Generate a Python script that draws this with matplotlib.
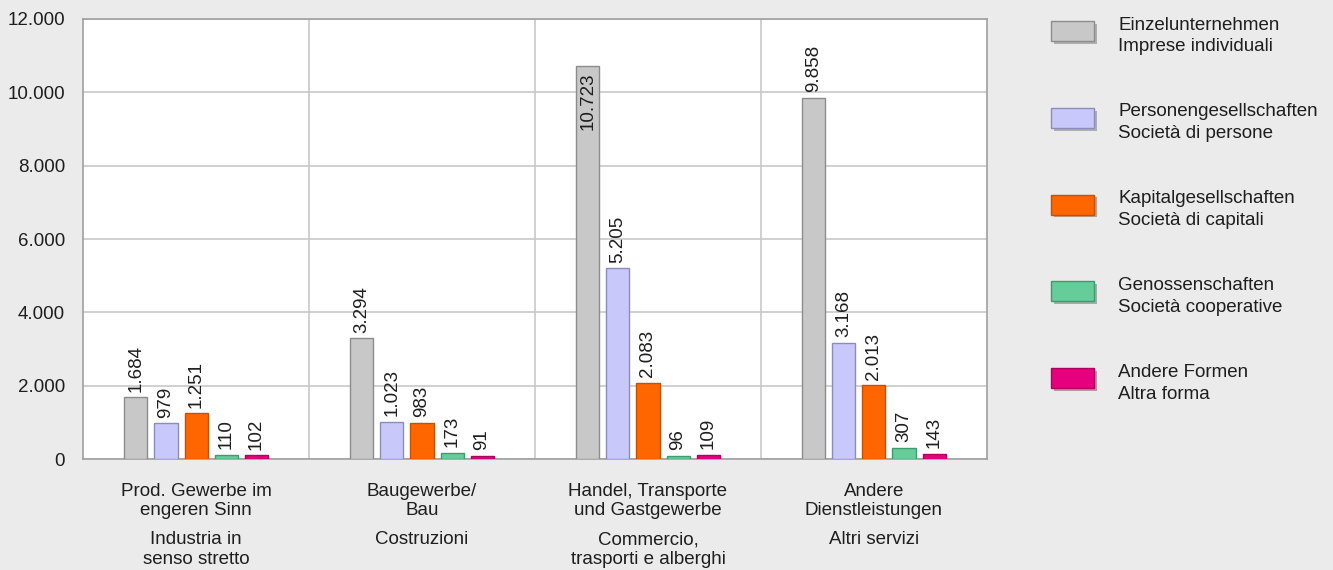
"""Unternehmen nach Rechtsform und Wirtschaftsbereich."""

import matplotlib

matplotlib.use("Agg")
import matplotlib.pyplot as plt
import matplotlib.patheffects as pe
import numpy as np
from matplotlib.patches import Rectangle
from matplotlib.ticker import FuncFormatter

plt.rcParams["font.family"] = ["Liberation Sans", "DejaVu Sans"]

categories_de = ["Prod. Gewerbe im\nengeren Sinn", "Baugewerbe/\nBau", "Handel, Transporte\nund Gastgewerbe", "Andere\nDienstleistungen"]
categories_it = ["Industria in\nsenso stretto", "Costruzioni", "Commercio,\ntrasporti e alberghi", "Altri servizi"]

series_de = ["Einzelunternehmen", "Personengesellschaften", "Kapitalgesellschaften", "Genossenschaften", "Andere Formen"]
series_it = ["Imprese individuali", "Società di persone", "Società di capitali", "Società cooperative", "Altra forma"]

einzel = [1684, 3294, 10723, 9858]
personen = [979, 1023, 5205, 3168]
kapital = [1251, 983, 2083, 2013]
genossen = [110, 173, 96, 307]
andere = [102, 91, 109, 143]
values = [einzel, personen, kapital, genossen, andere]

colors = ["#c8c8c8", "#c8c8fa", "#ff6600", "#66cc99", "#e6007e"]
edges = ["#8c8c8c", "#8c8cb8", "#c45000", "#3f9a6e", "#b0005e"]

BG = "#ebebeb"
TXT = "#1e1e1e"
FS = 13.5


def fmt_de(v: float) -> str:
    return f"{int(v):,}".replace(",", ".")


def main() -> None:
    fig = plt.figure(figsize=(13.33, 5.70), dpi=100, facecolor=BG)
    ax = fig.add_axes([0.0623, 0.1947, 0.6781, 0.772])
    ax.set_facecolor("white")

    x = np.arange(len(categories_de))
    width = 0.102
    step = 0.133
    for i, vals in enumerate(values):
        pos = x + (i - 2) * step
        ax.bar(pos, vals, width=width, color=colors[i], edgecolor=edges[i], linewidth=1.0, zorder=3)
        for px, v in zip(pos, vals):
            if v > 10000:
                ax.annotate(fmt_de(v), (px, v), xytext=(0, -5), textcoords="offset points",
                            rotation=90, ha="center", va="top", fontsize=FS, color=TXT, zorder=4)
            else:
                ax.annotate(fmt_de(v), (px, v), xytext=(0, 4), textcoords="offset points",
                            rotation=90, ha="center", va="bottom", fontsize=FS, color=TXT, zorder=4)

    ax.set_xlim(-0.5, len(categories_de) - 0.5)
    ax.set_ylim(0, 12000)
    ax.set_yticks(np.arange(0, 12001, 2000))
    ax.yaxis.set_major_formatter(FuncFormatter(lambda v, _: fmt_de(v)))
    ax.tick_params(axis="y", length=0, labelsize=FS, pad=13, colors=TXT)
    ax.set_xticks([])
    ax.grid(axis="y", color="#c8c8c8", linewidth=1.2, zorder=0)
    for b in x[:-1] + 0.5:
        ax.axvline(b, color="#c8c8c8", linewidth=1.2, zorder=0)
    for s in ax.spines.values():
        s.set_color("#a0a0a0")
        s.set_linewidth(1.2)

    for xi, de, it in zip(x, categories_de, categories_it):
        ax.text(xi, -0.054, de, transform=ax.get_xaxis_transform(), ha="center", va="top",
                fontsize=FS, linespacing=1.2, color=TXT)
        ax.text(xi, -0.164, it, transform=ax.get_xaxis_transform(), ha="center", va="top",
                fontsize=FS, linespacing=1.2, color=TXT)

    # legend drawn by hand: shadowed swatches with two-line labels
    for i, (de, it) in enumerate(zip(series_de, series_it)):
        yc = 1 - (31 + i * 86.8) / 570
        rect = Rectangle((1051 / 1333, yc - 10 / 570), 43 / 1333, 20 / 570, transform=fig.transFigure,
                         facecolor=colors[i], edgecolor=edges[i], linewidth=1.0,
                         path_effects=[pe.SimplePatchShadow(offset=(2, -2), alpha=0.35), pe.Normal()])
        fig.add_artist(rect)
        fig.text(1118 / 1333, yc - 5 / 570, f"{de}\n{it}", ha="left", va="center", fontsize=FS,
                 linespacing=1.38, color=TXT)

    fig.savefig("out.png", dpi=100, facecolor=BG)
    plt.close(fig)


if __name__ == "__main__":
    main()
